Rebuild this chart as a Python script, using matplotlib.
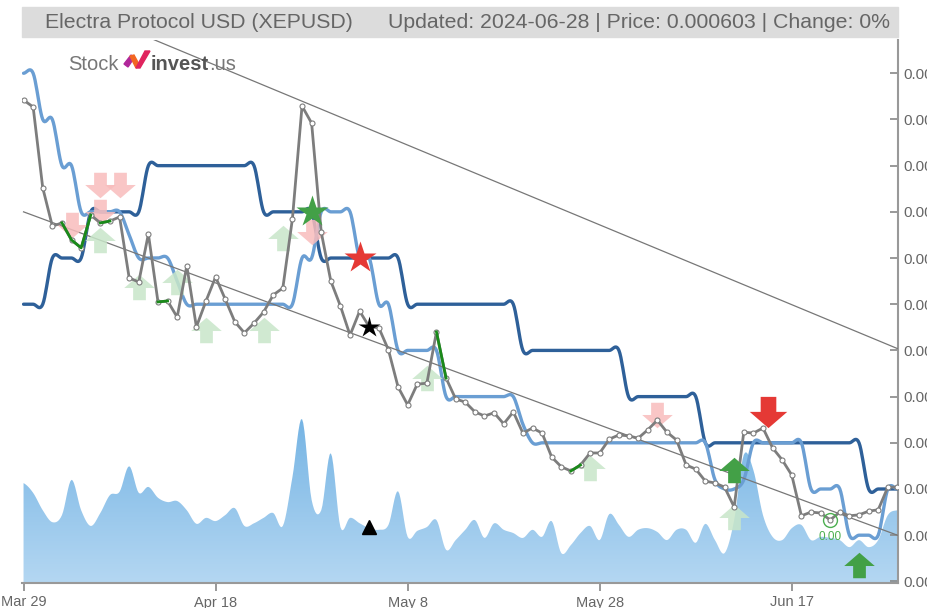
import numpy as np
import pandas as pd
import matplotlib
matplotlib.use('Agg')
import matplotlib.pyplot as plt
import matplotlib.dates as mdates
from matplotlib.patches import Rectangle, Polygon
from matplotlib.path import Path

plt.rcParams['font.family'] = ['Liberation Sans', 'DejaVu Sans']

# Daily data, 2024-03-29 .. 2024-06-28 (prices in millionths of a USD)
START_DATE = '2024-03-29'

PRICE = [
    684.2, 682.7, 665.2, 656.9, 657.6, 653.9, 652.2, 659.3, 657.6, 658.0,
    658.9, 645.7, 644.8, 655.2, 640.5, 640.7, 637.2, 648.3, 635.1, 640.7,
    645.9, 641.1, 636.2, 633.8, 635.9, 638.3, 642.0, 643.5, 658.5, 682.9,
    679.2, 655.6, 645.0, 639.6, 633.3, 638.5, 635.1, 634.9, 630.1, 622.1,
    618.2, 622.7, 622.9, 634.0, 624.0, 619.5, 618.8, 616.7, 615.8, 616.5,
    614.1, 616.7, 612.1, 613.2, 612.1, 606.9, 604.8, 603.9, 605.2, 607.8,
    607.8, 610.8, 611.7, 611.5, 611.0, 612.8, 614.9, 612.3, 610.6, 605.2,
    604.3, 601.7, 601.3, 600.4, 596.1, 612.3, 612.1, 613.2, 608.9, 606.3,
    603.0, 594.2, 595.0, 594.8, 593.3, 595.0, 594.2, 594.4, 595.2, 595.5,
    600.4, 600.4,
]

# slow (dark blue) and fast (light blue) step lines
SLOW_LINE = ([640] * 3 + [650] * 4 + [660] * 6 + [670] * 12 + [660] * 6 +
             [650] * 9 + [640] * 12 + [630] * 11 + [620] * 8 + [610] * 17 +
             [600] * 4)
FAST_LINE = ([690] * 2 + [680] * 2 + [670] * 2 + [660] * 5 + [655] +
             [650] * 4 + [645] + [640] * 12 + [650] * 2 + [660] * 4 +
             [650] * 2 + [640] * 2 + [630] * 5 + [620] * 8 + [614] +
             [610] * 19 + [602] + [600] * 2 + [602] + [610] * 6 +
             [600] * 4 + [590] * 4 + [600] * 2)

VOLUME = [
    18.4, 16.6, 13.4, 11.2, 12.5, 19.0, 13.4, 10.5, 12.9, 16.2,
    16.8, 21.5, 16.6, 17.7, 15.7, 14.9, 15.1, 13.4, 10.9, 12.0,
    11.4, 12.5, 13.8, 10.5, 11.0, 12.0, 12.9, 10.5, 19.5, 30.2,
    15.3, 13.4, 23.9, 10.3, 12.0, 11.0, 10.1, 9.8, 10.7, 16.9,
    8.5, 9.6, 10.3, 11.6, 6.1, 7.9, 9.8, 11.6, 8.3, 11.0,
    9.8, 9.2, 8.3, 9.8, 8.5, 11.4, 5.5, 7.0, 9.2, 10.5,
    7.9, 12.7, 10.7, 8.5, 9.8, 10.1, 9.4, 7.9, 9.8, 9.8,
    7.4, 10.9, 7.9, 5.5, 11.6, 23.6, 20.8, 12.5, 8.5, 7.9,
    10.1, 10.7, 7.9, 8.5, 8.3, 7.9, 6.6, 7.9, 6.6, 7.9,
    12.5, 13.4,
]

# price segments drawn in green (start day, end day)
GREEN_SEGMENTS = [(4, 7), (8, 9), (14, 15), (43, 44), (57, 58)]

# trend channel: price at first and last day
UPPER_TREND = [709.0, 630.4]
LOWER_TREND = [660.0, 590.0]

# signals (day index, price)
BUY_FADED_DAYS = [8, 12, 16, 19, 25, 27, 42, 59, 74]
BUY_FADED_PRICES = [653.9, 643.7, 644.8, 634.4, 634.4, 654.3, 624.0, 604.5, 593.9]
SELL_FADED_DAYS = [5, 8, 10, 8, 30, 66]
SELL_FADED_PRICES = [657.2, 665.8, 665.8, 660.0, 655.6, 616.0]
BUY_DAYS = [74, 87]
BUY_PRICES = [604.1, 583.5]
SELL_DAYS = [77.5]
SELL_PRICES = [616.7]
STAR_DAYS = [30, 35, 36]
STAR_PRICES = [660.0, 650.0, 635.1]
STAR_COLORS = ['#43a047', '#e53935', 'black']
STAR_SIZES = [24, 24, 16]
TRIANGLE_DAY, TRIANGLE_VOL = 36, 10.3
CIRCLE_DAY, CIRCLE_PRICE = 84, 593.3

PRICE_TICKS = [580, 590, 600, 610, 620, 630, 640, 650, 660, 670, 680, 690]
DATE_TICKS = ['2024-03-29', '2024-04-18', '2024-05-08', '2024-05-28', '2024-06-17']

W, H = 928, 608


def px(x, y):
    return x / W, 1 - y / H


def spline(x, y, n=10):
    # uniform Catmull-Rom curve through the points (chart-style smoothing)
    x = np.asarray(x, float)
    y = np.asarray(y, float)
    py = np.concatenate([[y[0]], y, [y[-1]]])
    t = np.linspace(0, 1, n, endpoint=False)
    xs, ys = [], []
    for i in range(len(x) - 1):
        p0, p1, p2, p3 = py[i], py[i + 1], py[i + 2], py[i + 3]
        ys.append(0.5 * (2 * p1 + (-p0 + p2) * t + (2 * p0 - 5 * p1 + 4 * p2 - p3) * t ** 2
                         + (-p0 + 3 * p1 - 3 * p2 + p3) * t ** 3))
        xs.append(x[i] + (x[i + 1] - x[i]) * t)
    xs.append([x[-1]])
    ys.append([y[-1]])
    return np.concatenate(xs), np.concatenate(ys)


def arrow_path(up=True):
    v = [(-0.25, -0.5), (0.25, -0.5), (0.25, -0.02), (0.6, -0.02), (0, 0.5),
         (-0.6, -0.02), (-0.25, -0.02), (-0.25, -0.5)]
    if not up:
        v = [(a, -b) for a, b in v]
    return Path(v, closed=True)


def main():
    dates = pd.date_range(START_DATE, periods=len(PRICE))
    x = mdates.date2num(dates)
    day0 = x[0]
    scale = 1e-6
    price = np.array(PRICE) * scale

    fig = plt.figure(figsize=(W / 100, H / 100), dpi=100)
    ax = fig.add_axes([22 / W, 25 / H, 876 / W, 543 / H])
    axv = ax.twinx()
    ax.set_zorder(2)
    axv.set_zorder(1)
    ax.patch.set_visible(False)

    # volume area with vertical gradient
    vx, vy = spline(x, VOLUME, 8)
    poly = axv.fill_between(vx, 0, vy, color='none', lw=0)
    grad = np.linspace(0, 1, 256).reshape(-1, 1)
    cmap = matplotlib.colors.LinearSegmentedColormap.from_list('v', ['#b4d7f2', '#72b2e3'])
    img = axv.imshow(grad, aspect='auto', cmap=cmap, origin='lower',
                     extent=[x[0] - 0.2, x[-1] + 0.2, 0, 32], zorder=1)
    clip = Path.make_compound_path(*poly.get_paths())
    img.set_clip_path(clip, transform=axv.transData)
    axv.set_ylim(0, 100)
    axv.set_yticks([])
    axv.plot(day0 + TRIANGLE_DAY, TRIANGLE_VOL, marker='^', color='black', ms=10, zorder=5)

    # step lines
    sx, sy = spline(x, SLOW_LINE, 10)
    ax.plot(sx, sy * scale, color='#2e6099', lw=2.4, zorder=3, solid_capstyle='round')
    fx, fy = spline(x, FAST_LINE, 10)
    ax.plot(fx, fy * scale, color='#6a9ed3', lw=2.4, zorder=3, solid_capstyle='round')

    # trend channel
    ax.plot([x[0], x[-1]], np.array(UPPER_TREND) * scale, color='#777777', lw=0.9, zorder=4)
    ax.plot([x[0], x[-1]], np.array(LOWER_TREND) * scale, color='#777777', lw=0.9, zorder=4)

    # faded signals
    ax.scatter(day0 + np.array(BUY_FADED_DAYS), np.array(BUY_FADED_PRICES) * scale,
               marker=arrow_path(True), s=22 ** 2, color='#c8e6c9', alpha=0.85, lw=0, zorder=4)
    ax.scatter(day0 + np.array(SELL_FADED_DAYS), np.array(SELL_FADED_PRICES) * scale,
               marker=arrow_path(False), s=22 ** 2, color='#f8bcbc', alpha=0.85, lw=0, zorder=4)

    # price line
    ax.plot(x, price, color='#7d7d7d', lw=2, zorder=6, marker='o', ms=3.6,
            mfc='white', mec='#7d7d7d', mew=0.8)
    for a, b in GREEN_SEGMENTS:
        ax.plot(x[a:b + 1], price[a:b + 1], color='#1a8a1a', lw=2, zorder=7)

    # strong signals
    ax.scatter(day0 + np.array(BUY_DAYS), np.array(BUY_PRICES) * scale,
               marker=arrow_path(True), s=22 ** 2, color='#43a047', lw=0, zorder=8)
    ax.scatter(day0 + np.array(SELL_DAYS), np.array(SELL_PRICES) * scale,
               marker=arrow_path(False), s=27 ** 2, color='#e53935', lw=0, zorder=8)
    for d, p, c, s in zip(STAR_DAYS, STAR_PRICES, STAR_COLORS, STAR_SIZES):
        ax.plot(day0 + d, p * scale, marker='*', color=c, ms=s, mec='none', zorder=8)
    ax.plot(day0 + CIRCLE_DAY, CIRCLE_PRICE * scale, marker='o', ms=10, mfc='none',
            mec='#4caf50', mew=1, zorder=8)
    ax.annotate('0.00', (day0 + CIRCLE_DAY, CIRCLE_PRICE * scale), xytext=(0, -12),
                textcoords='offset points', ha='center', va='center', color='#4caf50',
                fontsize=8.5, zorder=8)

    # axes styling
    ax.set_xlim(x[0] - 0.16, x[-1] + 0.06)
    axv.set_xlim(ax.get_xlim())
    ax.set_ylim(579.65 * scale, 697.2 * scale)
    ax.yaxis.tick_right()
    ax.set_yticks(np.array(PRICE_TICKS) * scale)
    ax.set_yticklabels([f'{v * scale:.6f}' for v in PRICE_TICKS])
    ax.tick_params(axis='y', direction='in', length=6, pad=4, colors='#888888',
                   labelcolor='#666666', labelsize=11, width=1.2)
    ax.set_xticks(mdates.date2num(pd.to_datetime(DATE_TICKS)))
    ax.set_xticklabels([pd.Timestamp(d).strftime('%b %-d') for d in DATE_TICKS])
    ax.tick_params(axis='x', direction='out', length=6, pad=3, colors='#888888',
                   labelcolor='#666666', labelsize=10.5, width=1.2)
    for side in ['top', 'left']:
        ax.spines[side].set_visible(False)
        axv.spines[side].set_visible(False)
    axv.spines['right'].set_visible(False)
    axv.spines['bottom'].set_visible(False)
    ax.spines['right'].set_color('#999999')
    ax.spines['right'].set_linewidth(1.5)
    ax.spines['bottom'].set_color('#999999')
    ax.spines['bottom'].set_linewidth(1.5)

    # header bar
    x0, y0 = px(22, 37)
    x1, y1 = px(898, 7)
    fig.patches.append(Rectangle((x0, y0), x1 - x0, y1 - y0, transform=fig.transFigure,
                                 color='#dcdcdc', zorder=10))
    fig.text(*px(45, 22), 'Electra Protocol USD (XEPUSD)', fontsize=15.3, color='#666666',
             va='center', ha='left', zorder=11)
    fig.text(*px(890, 22), 'Updated: 2024-06-28 | Price: 0.000603 | Change: 0%', fontsize=15.3,
             color='#666666', va='center', ha='right', zorder=11)

    # logo
    fig.text(*px(68, 65), 'Stock', fontsize=14.5, color='#777777', va='center', zorder=11)
    fig.patches.append(Polygon([px(124, 64), px(131, 55), px(134, 58), px(128, 67)],
                               transform=fig.transFigure, color='#b0279a', zorder=11))
    fig.patches.append(Polygon([px(130, 56), px(134, 55), px(140, 66), px(136, 68)],
                               transform=fig.transFigure, color='#f26522', zorder=11))
    fig.patches.append(Polygon([px(136, 68), px(145, 51), px(150, 51), px(140, 68)],
                               transform=fig.transFigure, color='#e0245e', zorder=11))
    fig.text(*px(151, 65), 'invest', fontsize=14.5, color='#555555', fontweight='bold',
             va='center', zorder=11)
    fig.text(*px(209, 65), '.us', fontsize=14.5, color='#777777', va='center', zorder=11)

    fig.savefig('out.png', dpi=100)


if __name__ == '__main__':
    main()
